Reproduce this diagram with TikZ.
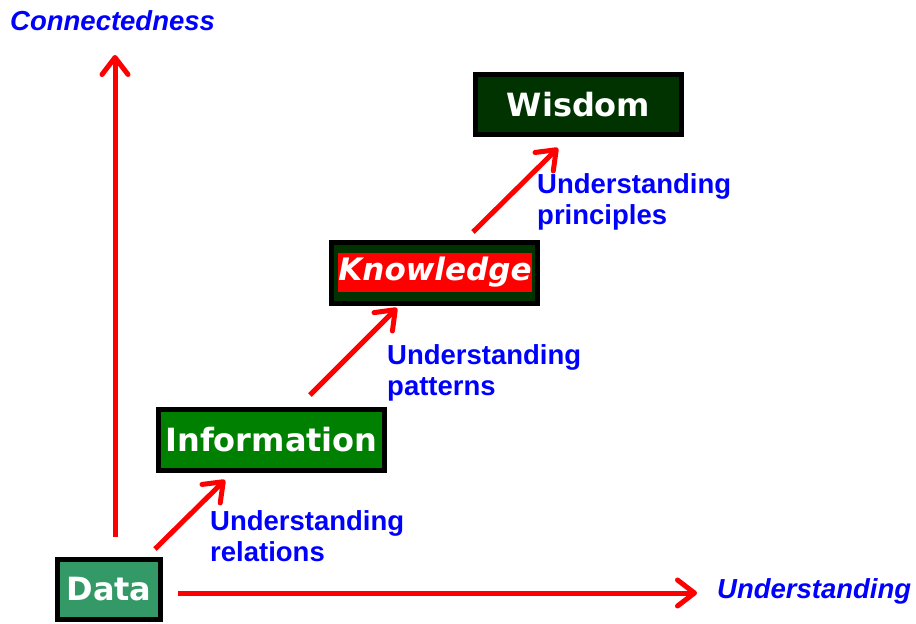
\documentclass[tikz,border=0pt]{standalone}
\usepackage{fontspec}
\setmainfont{Liberation Sans}
\newfontfamily\boxfont{DejaVu Sans}
\usetikzlibrary{arrows.meta}
\definecolor{dgreen}{HTML}{003300}
\definecolor{mgreen}{HTML}{008000}
\definecolor{sgreen}{HTML}{339966}
\definecolor{lblue}{HTML}{0000FF}
\tikzset{
  stagebox/.style={draw=black, line width=5pt, inner sep=0pt, text=white,
    font=\boxfont\bfseries\fontsize{32}{34}\selectfont},
  redarrow/.style={draw=red, line width=5pt,
    -{Straight Barb[length=17pt,width=26pt,line cap=round,line join=round]}},
  steplabel/.style={anchor=north west, align=left, text=lblue, inner sep=0pt,
    font=\bfseries\fontsize{27.5}{31}\selectfont},
  axislabel/.style={text=lblue, inner sep=0pt,
    font=\bfseries\itshape\fontsize{27.5}{31}\selectfont},
}
\begin{document}
\begin{tikzpicture}[x=1pt,y=-1pt]
\useasboundingbox (0,0) rectangle (916,624);
% boxes
\node[stagebox, fill=sgreen, minimum width=103pt, minimum height=60pt] (data) at (109,589.5) {Data};
\node[stagebox, fill=mgreen, minimum width=226pt, minimum height=61pt] (info) at (271.5,440) {Information};
\node[stagebox, fill=dgreen, minimum width=206pt, minimum height=61pt] (know) at (434.5,273) {};
\node[fill=red, text=white, inner sep=0pt, minimum width=194pt, minimum height=39pt,
  font=\boxfont\bfseries\itshape\fontsize{31}{33}\selectfont] (knowt) at (435,272.5) {Knowledge};
\node[stagebox, fill=dgreen, minimum width=206pt, minimum height=60pt] (wis) at (578.5,104.5) {Wisdom};
% axes
\coordinate (vs) at (115,537);
\coordinate (ve) at (115,55);
\coordinate (hs) at (178,593);
\coordinate (he) at (697,593);
\draw[redarrow] (vs) -- (ve);
\draw[redarrow] (hs) -- (he);
% diagonal arrows
\coordinate (d1s) at (155,549);
\coordinate (d1e) at (225,480);
\coordinate (d2s) at (310,395);
\coordinate (d2e) at (397,308);
\coordinate (d3s) at (473,232);
\coordinate (d3e) at (558,148);
\draw[redarrow] (d1s) -- (d1e);
\draw[redarrow] (d2s) -- (d2e);
\draw[redarrow] (d3s) -- (d3e);
% labels
\node[steplabel] (l1) at (210,510) {Understanding\\relations};
\node[steplabel] (l2) at (387,344) {Understanding\\patterns};
\node[steplabel] (l3) at (537,173) {Understanding\\principles};
\node[axislabel, anchor=west] (cx) at (10,21) {Connectedness};
\node[axislabel, anchor=west] (ux) at (717,591) {Understanding};
\end{tikzpicture}
\end{document}
